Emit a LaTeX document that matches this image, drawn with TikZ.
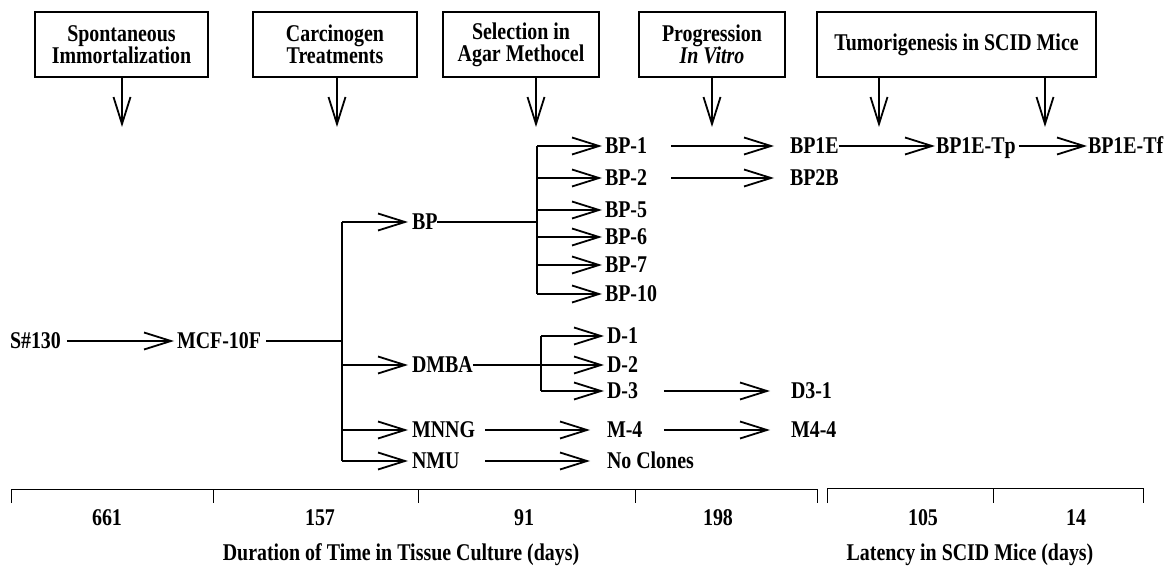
\documentclass[tikz,border=0pt]{standalone}
\usepackage{fontspec}
\setmainfont{Liberation Serif}[FakeStretch=0.83]
\usetikzlibrary{arrows.meta}
\begin{document}
\begin{tikzpicture}[x=1pt,y=-1pt,
  font=\fontsize{24}{22}\selectfont\bfseries,
  conn/.style={line width=1.8pt},
  arr/.style={line width=1.8pt,-{Straight Barb[length=27pt,width=17pt]}},
  lbl/.style={inner sep=0pt,outer sep=0pt,anchor=west,text height=15.9pt,text depth=0pt},
  stage/.style={draw,line width=1.2pt,inner sep=0pt,align=center,minimum height=65pt},
  axisline/.style={line width=1pt},
  num/.style={inner sep=0pt}]
\useasboundingbox (0,0) rectangle (1165,569);

% stage boxes
\node[stage,minimum width=173pt] (s1) at (121.5,44.5) {Spontaneous\\Immortalization};
\node[stage,minimum width=164pt] (s2) at (335,44.5) {Carcinogen\\Treatments};
\node[stage,minimum width=156pt] (s3) at (521,44.5) {Selection in\\Agar Methocel};
\node[stage,minimum width=146pt] (s4) at (712,44.5) {Progression\\\textit{In Vitro}};
\node[stage,minimum width=279pt] (s5) at (956.5,44.5) {Tumorigenesis in SCID Mice};

\coordinate (t1) at (122,127);
\coordinate (t2) at (337,127);
\coordinate (t3) at (536,127);
\coordinate (t4) at (712,127);
\coordinate (t5) at (879,127);
\coordinate (t6) at (1045,127);
\draw[arr] (s1.south -| t1) -- (t1);
\draw[arr] (s2.south -| t2) -- (t2);
\draw[arr] (s3.south -| t3) -- (t3);
\draw[arr] (s4.south -| t4) -- (t4);
\draw[arr] (s5.south -| t5) -- (t5);
\draw[arr] (s5.south -| t6) -- (t6);

% main lineage
\node[lbl] (s130) at (10,341) {S\#130};
\node[lbl] (mcf) at (177,341) {MCF-10F};
\coordinate (j1) at (342,341);
\coordinate (vt) at (342,222);
\coordinate (vb) at (342,461);
\node[lbl] (bp) at (412,222) {BP};
\node[lbl] (dmba) at (412,365) {DMBA};
\node[lbl] (mnng) at (412,430) {MNNG};
\node[lbl] (nmu) at (412,461) {NMU};

\draw[arr,shorten <=6pt,shorten >=3pt] (s130.east) -- (mcf.west);
\draw[conn,shorten <=5pt] (mcf.east) -- (j1);
\draw[conn] (vt) -- (vb);
\draw[arr,shorten >=4pt] (vt) -- (bp.west);
\draw[arr,shorten >=4pt] (vt |- dmba.west) -- (dmba.west);
\draw[arr,shorten >=4pt] (vt |- mnng.west) -- (mnng.west);
\draw[arr,shorten >=4pt] (vt |- nmu.west) -- (nmu.west);

% BP clones
\node[lbl] (bp1) at (605,146) {BP-1};
\node[lbl] (bp2) at (605,178) {BP-2};
\node[lbl] (bp5) at (605,210) {BP-5};
\node[lbl] (bp6) at (605,237) {BP-6};
\node[lbl] (bp7) at (605,265) {BP-7};
\node[lbl] (bp10) at (605,294) {BP-10};
\coordinate (bj) at (537,222);
\draw[conn] (bp.east) -- (bj);
\draw[conn] (bj |- bp1.west) -- (bj |- bp10.west);
\foreach \n in {bp1,bp2,bp5,bp6,bp7,bp10}
  \draw[arr,shorten >=3pt] (bj |- \n.west) -- (\n.west);

% DMBA clones
\node[lbl] (d1) at (607,336) {D-1};
\node[lbl] (d2) at (607,365) {D-2};
\node[lbl] (d3) at (607,391) {D-3};
\coordinate (dj) at (541,365);
\draw[arr,shorten >=3pt] (dmba.east) -- (d2.west);
\draw[conn] (dj |- d1.west) -- (dj |- d3.west);
\draw[arr,shorten >=3pt] (dj |- d1.west) -- (d1.west);
\draw[arr,shorten >=3pt] (dj |- d3.west) -- (d3.west);

% MNNG / NMU
\node[lbl] (m4) at (607,430) {M-4};
\node[lbl] (nc) at (607,461) {No Clones};
\draw[arr,shorten <=10pt,shorten >=17pt] (mnng.east) -- (m4.west);
\draw[arr,shorten <=10pt,shorten >=17pt] (mnng.east |- nmu.east) -- (nc.west);

% progression
\node[lbl] (bp1e) at (790,146) {BP1E};
\node[lbl] (bp2b) at (790,178) {BP2B};
\node[lbl] (tp) at (936,146) {BP1E-Tp};
\node[lbl] (tf) at (1088,146) {BP1E-Tf};
\node[lbl] (d31) at (791,391) {D3-1};
\node[lbl] (m44) at (791,430) {M4-4};
\draw[arr,shorten <=24pt,shorten >=16pt] (bp1.east) -- (bp1e.west);
\draw[arr,shorten <=24pt,shorten >=16pt] (bp2.east) -- (bp2b.west);
\draw[arr,shorten >=1pt] (bp1e.east) -- (tp.west);
\draw[arr,shorten <=3pt,shorten >=1pt] (tp.east) -- (tf.west);
\draw[arr,shorten <=26pt,shorten >=21pt] (d3.east) -- (d31.west);
\draw[arr,shorten <=21.5pt,shorten >=21pt] (m4.east) -- (m44.west);

% time axis
\draw[axisline] (11,503) -- (11,489) -- (817,489) -- (817,503);
\draw[axisline] (213,489) -- (213,503);
\draw[axisline] (418,489) -- (418,503);
\draw[axisline] (635,489) -- (635,503);
\draw[axisline] (827,503) -- (827,488) -- (1143,488) -- (1143,503);
\draw[axisline] (993,488) -- (993,503);

\node[num] (n1) at (107,518) {661};
\node[num] (n2) at (320,518) {157};
\node[num] (n3) at (524,518) {91};
\node[num] (n4) at (718,518) {198};
\node[num] (n5) at (923,518) {105};
\node[num] (n6) at (1076,518) {14};

\node[num] (dur) at (401,555) {Duration of Time in Tissue Culture (days)};
\node[num] (lat) at (970,555) {Latency in SCID Mice (days)};
\end{tikzpicture}
\end{document}
